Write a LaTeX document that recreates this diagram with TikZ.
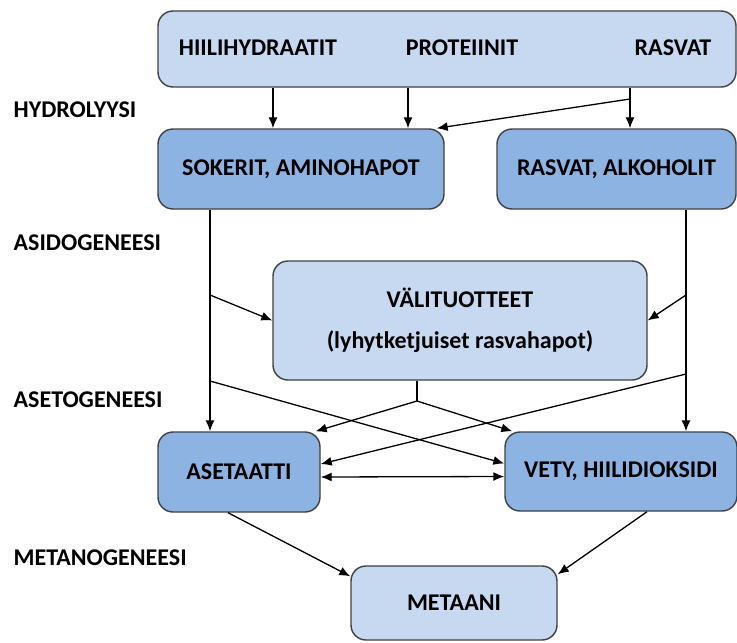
\documentclass[tikz,border=0pt]{standalone}
\usepackage{fontspec}
\setmainfont{Carlito}
\usetikzlibrary{arrows.meta}

\begin{document}
\begin{tikzpicture}[x=1pt,y=-1pt,>={Latex[length=11pt,width=9pt]},line width=1.3pt,
  font=\fontsize{24}{41}\selectfont\bfseries]
\tikzstyle{laatikko}=[rectangle,rounded corners=15pt,draw=black!75,line width=1.4pt,align=center,inner sep=0pt]
\tikzstyle{kevyt}=[laatikko,fill={rgb,255:red,198;green,217;blue,241}]
\tikzstyle{tumma}=[laatikko,fill={rgb,255:red,141;green,179;blue,226}]
\tikzstyle{vaihe}=[anchor=west,inner sep=0pt]
\useasboundingbox (0,0) rectangle (737,643);

\node[kevyt,minimum width=578,minimum height=76](R) at (447,49) {};
\node(hh) at (258,48) {HIILIHYDRAATIT};
\node(pr) at (462,48) {PROTEIINIT};
\node(rv) at (673,48) {RASVAT};
\node[tumma,minimum width=286,minimum height=80](S) at (301,169) {SOKERIT, AMINOHAPOT};
\node[tumma,minimum width=239,minimum height=80](F) at (616.5,169) {RASVAT, ALKOHOLIT};
\node[kevyt,minimum width=374,minimum height=119](V) at (460,320.5) {VÄLITUOTTEET\\(lyhytketjuiset rasvahapot)};
\node[tumma,minimum width=162,minimum height=80](A) at (239,472) {ASETAATTI};
\node[tumma,minimum width=232,minimum height=79](H) at (621,471.5) {VETY, HIILIDIOKSIDI};
\node[kevyt,minimum width=206,minimum height=74](M) at (454,603) {METAANI};

\node[vaihe](hyd) at (13,110) {HYDROLYYSI};
\node[vaihe](asi) at (13,243) {ASIDOGENEESI};
\node[vaihe](ase) at (13,400) {ASETOGENEESI};
\node[vaihe](met) at (13,558) {METANOGENEESI};

\coordinate (r1) at (630,99);
\coordinate (s1) at (210,295);
\coordinate (s2) at (210,381);
\coordinate (f1) at (686,295);
\coordinate (f2) at (686,374);
\coordinate (v1) at (417,401);

\draw[->] (R.south -| 273,0) -- (S.north -| 273,0);
\draw[->] (R.south -| 408,0) -- (S.north -| 408,0);
\draw[->] (R.south -| 630,0) -- (F.north -| 630,0);
\draw[->] (r1) -- ([xshift=-8pt]S.north east);
\draw[->] (S.south -| s1) -- (A.north -| s1);
\draw[->] (F.south -| f1) -- (H.north -| f1);
\draw[->] (s1) -- (V.west);
\draw[->] (f1) -- (V.east);
\draw[->] (s2) -- ([yshift=8pt]H.west);
\draw[->] (f2) -- ([yshift=8pt]A.east);
\draw (V.south -| v1) -- (v1);
\draw[->] (v1) -- ([xshift=-5pt]A.north east);
\draw[->] (v1) -- ([xshift=8pt]H.north west);
\draw[<->] ([yshift=-5pt]A.east) -- ([yshift=-5pt]H.west);
\draw[->] ([xshift=-11pt]A.south) -- ([yshift=-11pt]M.north west);
\draw[->] ([xshift=26pt]H.south) -- ([yshift=-9pt]M.north east);
\end{tikzpicture}
\end{document}
